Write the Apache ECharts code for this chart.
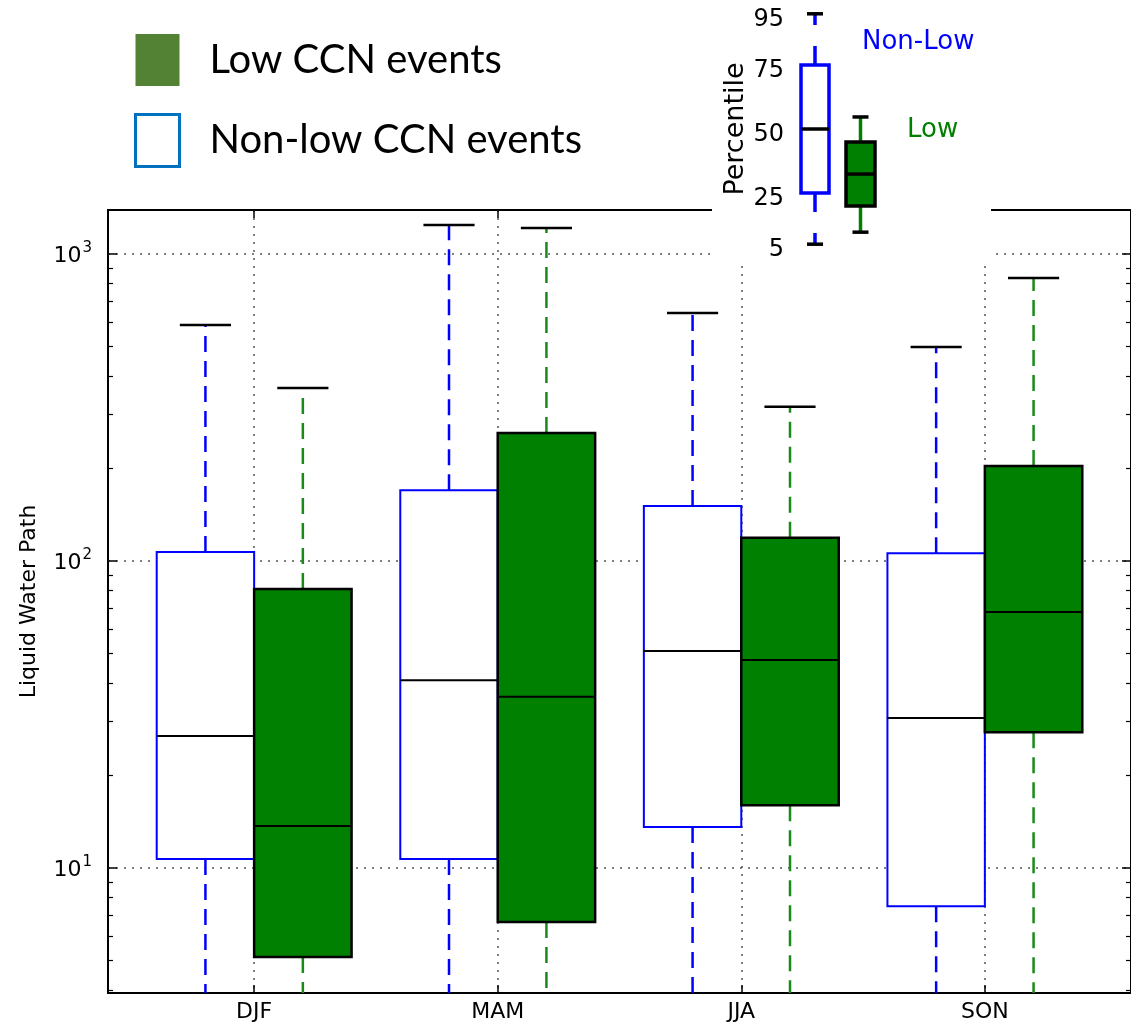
<!DOCTYPE html>
<html><head><meta charset="utf-8">
<script src="https://cdn.jsdelivr.net/npm/echarts@6/dist/echarts.min.js"></script>
<style>html,body{margin:0;padding:0;background:#fff}#c{width:1131px;height:1027px}</style>
</head><body><div id="c"></div>
<script>
// ---- data ----
const seasons = ['DJF', 'MAM', 'JJA', 'SON'];
const yTickLabels = [10, 100, 1000];
// Non-low CCN events
const nonLowWhiskerLow  = [3.5, 3.5, 3.5, 3.5];   // below the visible axis range (estimated)
const nonLowQ1          = [10.7, 10.7, 13.6, 7.5];
const nonLowMedian      = [26.9, 40.9, 50.9, 30.8];
const nonLowQ3          = [107, 170, 151, 106];
const nonLowWhiskerHigh = [587, 1243, 643, 498];
// Low CCN events
const lowWhiskerLow  = [3.5, 3.5, 3.5, 3.5];      // below the visible axis range (estimated)
const lowQ1          = [5.13, 6.67, 16.0, 27.7];
const lowMedian      = [13.7, 36.1, 47.6, 68.2];
const lowQ3          = [81.1, 261, 119, 204];
const lowWhiskerHigh = [366, 1216, 318, 835];
// inset schematic (percentiles)
const insetTicks = [5, 25, 50, 75, 95];
const insetNonLow = [5, 25, 50, 75, 95];
const insetLow = [9.7, 19.9, 32.4, 44.9, 54.7];

// ---- layout constants ----
const Y_MIN = 3.915, Y_MAX = 1391;
const minorTicks = [];
[1, 10, 100].forEach(d => { for (let k = 2; k <= 9; k++) { const v = k * d; if (v > Y_MIN && v < Y_MAX) minorTicks.push(v); } });
const FONT = 'DejaVu Sans';

function makeRenderer(o) {
  return function (params, api) {
    const x = api.value(0), lo = api.value(1), q1 = api.value(2), md = api.value(3), q3 = api.value(4), hi = api.value(5);
    const c = (xx, yy) => api.coord([xx, yy]);
    const ch = [];
    const top = c(x, q3), capHi = c(x, hi), bot = c(x, q1), capLo = c(x, Math.max(lo, o.yMin));
    ch.push({type: 'line', shape: {x1: top[0], y1: top[1], x2: capHi[0], y2: capHi[1]},
      style: {stroke: o.whisker, lineWidth: o.wl, lineDash: o.dash}});
    ch.push({type: 'line', shape: {x1: bot[0], y1: bot[1], x2: capLo[0], y2: capLo[1]},
      style: {stroke: o.whisker, lineWidth: o.wl, lineDash: o.dash}});
    const h1 = c(x - o.cw, hi), h2 = c(x + o.cw, hi);
    ch.push({type: 'line', shape: {x1: h1[0], y1: h1[1], x2: h2[0], y2: h2[1]}, style: {stroke: '#000', lineWidth: o.cl}});
    if (lo >= o.yMin) {
      const l1 = c(x - o.cw, lo), l2 = c(x + o.cw, lo);
      ch.push({type: 'line', shape: {x1: l1[0], y1: l1[1], x2: l2[0], y2: l2[1]}, style: {stroke: '#000', lineWidth: o.cl}});
    }
    const tl = c(x - o.hw, q3), br = c(x + o.hw, q1);
    ch.push({type: 'rect', shape: {x: tl[0], y: tl[1], width: br[0] - tl[0], height: br[1] - tl[1]},
      style: {fill: o.fill, stroke: o.stroke, lineWidth: o.bl}});
    const m1 = c(x - o.hw, md), m2 = c(x + o.hw, md);
    ch.push({type: 'line', shape: {x1: m1[0], y1: m1[1], x2: m2[0], y2: m2[1]}, style: {stroke: '#000', lineWidth: o.ml}});
    return {type: 'group', children: ch};
  };
}

const nonLowData = seasons.map((s, i) => [i + 1 - 0.2, nonLowWhiskerLow[i], nonLowQ1[i], nonLowMedian[i], nonLowQ3[i], nonLowWhiskerHigh[i]]);
const lowData = seasons.map((s, i) => [i + 1 + 0.2, lowWhiskerLow[i], lowQ1[i], lowMedian[i], lowQ3[i], lowWhiskerHigh[i]]);
const insetNonLowData = [[25].concat(insetNonLow)];
const insetLowData = [[70.5].concat(insetLow)];

const dotted = {color: '#555', width: 1.5, type: [2, 6]};
const logAxisBase = {type: 'log', logBase: 10, min: Y_MIN, max: Y_MAX, gridIndex: 0};

const option = {
  animation: false,
  backgroundColor: '#fff',
  grid: [
    {left: 108, top: 210, width: 1024, height: 783, show: true, borderColor: '#000', borderWidth: 2, backgroundColor: 'transparent'},
    {left: 790, top: 1, width: 100, height: 256, show: false}
  ],
  legend: {
    orient: 'vertical', left: 134, top: 34, padding: 0, itemWidth: 44, itemHeight: 52, itemGap: 27,
    selectedMode: false,
    data: [
      {name: 'Low CCN events', icon: 'rect', itemStyle: {color: '#548235', borderWidth: 0}},
      {name: 'Non-low CCN events', icon: 'rect', itemStyle: {color: '#fff', borderColor: '#0070C0', borderWidth: 3}}
    ],
    textStyle: {fontFamily: 'Lato', fontSize: 40, color: '#000', padding: [0, 0, 0, 25]}
  },
  xAxis: [
    {type: 'value', gridIndex: 0, min: 0.4, max: 4.6, position: 'bottom',
      axisLine: {show: false},
      axisTick: {show: true, inside: true, length: 8, customValues: [1, 2, 3, 4], lineStyle: {color: '#000', width: 1.5}},
      axisLabel: {customValues: [1, 2, 3, 4], formatter: v => seasons[Math.round(v) - 1] || '',
        fontFamily: FONT, fontSize: 22, color: '#000', margin: 8},
      splitLine: {show: true, lineStyle: dotted}},
    {type: 'value', gridIndex: 0, min: 0.4, max: 4.6, position: 'top',
      axisLine: {show: false},
      axisTick: {show: true, inside: true, length: 8, customValues: [1, 2, 3, 4], lineStyle: {color: '#000', width: 1.5}},
      axisLabel: {show: false}, splitLine: {show: false}},
    {type: 'value', gridIndex: 1, min: 0, max: 100, show: false}
  ],
  yAxis: [
    Object.assign({}, logAxisBase, {position: 'left',
      name: 'Liquid Water Path', nameLocation: 'middle', nameRotate: 90, nameGap: 68,
      nameTextStyle: {fontFamily: FONT, fontSize: 22, color: '#000'},
      axisLine: {show: false},
      axisTick: {show: true, inside: true, length: 9, customValues: yTickLabels, lineStyle: {color: '#000', width: 1.5}},
      axisLabel: {customValues: yTickLabels, margin: 16,
        formatter: v => '{b|10}{s|' + Math.round(Math.log10(v)) + '}',
        rich: {b: {fontFamily: FONT, fontSize: 22, color: '#000', padding: [5, 0, 0, 0]},
               s: {fontFamily: FONT, fontSize: 15, color: '#000', verticalAlign: 'top', padding: [0, 0, 0, 1]}}},
      splitLine: {show: true, lineStyle: dotted}}),
    Object.assign({}, logAxisBase, {position: 'left', axisLine: {show: false}, axisLabel: {show: false}, splitLine: {show: false},
      axisTick: {show: true, inside: true, length: 5, customValues: minorTicks, lineStyle: {color: '#000', width: 1.2}}}),
    Object.assign({}, logAxisBase, {position: 'right', axisLine: {show: false}, axisLabel: {show: false}, splitLine: {show: false},
      axisTick: {show: true, inside: true, length: 9, customValues: yTickLabels, lineStyle: {color: '#000', width: 1.5}}}),
    Object.assign({}, logAxisBase, {position: 'right', axisLine: {show: false}, axisLabel: {show: false}, splitLine: {show: false},
      axisTick: {show: true, inside: true, length: 5, customValues: minorTicks, lineStyle: {color: '#000', width: 1.2}}}),
    {type: 'value', gridIndex: 1, min: 0, max: 100, position: 'left', z: 60,
      name: 'Percentile', nameLocation: 'middle', nameRotate: 90, nameGap: 40,
      nameTextStyle: {fontFamily: FONT, fontSize: 27, color: '#000'},
      axisLine: {show: false}, axisTick: {show: false}, splitLine: {show: false},
      axisLabel: {customValues: insetTicks, margin: 6,
        formatter: v => '{a|' + v + '}',
        rich: {a: {fontFamily: FONT, fontSize: 24, color: '#000', padding: [12, 0, 0, 0]}}}}
  ],
  graphic: [
    {type: 'rect', z: 50, shape: {x: 712, y: 0, width: 279, height: 266}, style: {fill: '#fff'}},
    {type: 'text', z: 60, left: 862, top: 29, style: {text: 'Non-Low', fill: '#0000ff', font: '26px "DejaVu Sans"'}},
    {type: 'text', z: 60, left: 907, top: 117, style: {text: 'Low', fill: '#008000', font: '26px "DejaVu Sans"'}}
  ],
  series: [
    {name: 'Non-low CCN events', type: 'custom', xAxisIndex: 0, yAxisIndex: 0, z: 2,
      itemStyle: {color: '#0000ff'}, encode: {x: 0, y: [1, 2, 3, 4, 5]},
      renderItem: makeRenderer({yMin: Y_MIN, hw: 0.2, cw: 0.105, whisker: '#0000ff', wl: 2.5, dash: [16, 9],
        cl: 2.5, fill: '#ffffff', stroke: '#0000ff', bl: 2, ml: 2}),
      data: nonLowData},
    {name: 'Low CCN events', type: 'custom', xAxisIndex: 0, yAxisIndex: 0, z: 3,
      itemStyle: {color: '#008000'}, encode: {x: 0, y: [1, 2, 3, 4, 5]},
      renderItem: makeRenderer({yMin: Y_MIN, hw: 0.2, cw: 0.105, whisker: '#1a8a1a', wl: 2.5, dash: [16, 9],
        cl: 2.5, fill: '#008000', stroke: '#000', bl: 2.5, ml: 2}),
      data: lowData},
    {name: 'inset non-low', type: 'custom', xAxisIndex: 2, yAxisIndex: 4, z: 60,
      encode: {x: 0, y: [1, 2, 3, 4, 5]},
      renderItem: makeRenderer({yMin: 0, hw: 14, cw: 8, whisker: '#0000ff', wl: 3.5, dash: [19, 21],
        cl: 3.5, fill: '#ffffff', stroke: '#0000ff', bl: 3.5, ml: 3.5}),
      data: insetNonLowData},
    {name: 'inset low', type: 'custom', xAxisIndex: 2, yAxisIndex: 4, z: 60,
      encode: {x: 0, y: [1, 2, 3, 4, 5]},
      renderItem: makeRenderer({yMin: 0, hw: 14.5, cw: 8, whisker: '#008000', wl: 3.5, dash: null,
        cl: 3.5, fill: '#008000', stroke: '#000', bl: 3.5, ml: 3.5}),
      data: insetLowData}
  ]
};
const chart = echarts.init(document.getElementById('c'), null, {renderer: 'canvas'});
chart.setOption(option);
</script>
</body></html>
